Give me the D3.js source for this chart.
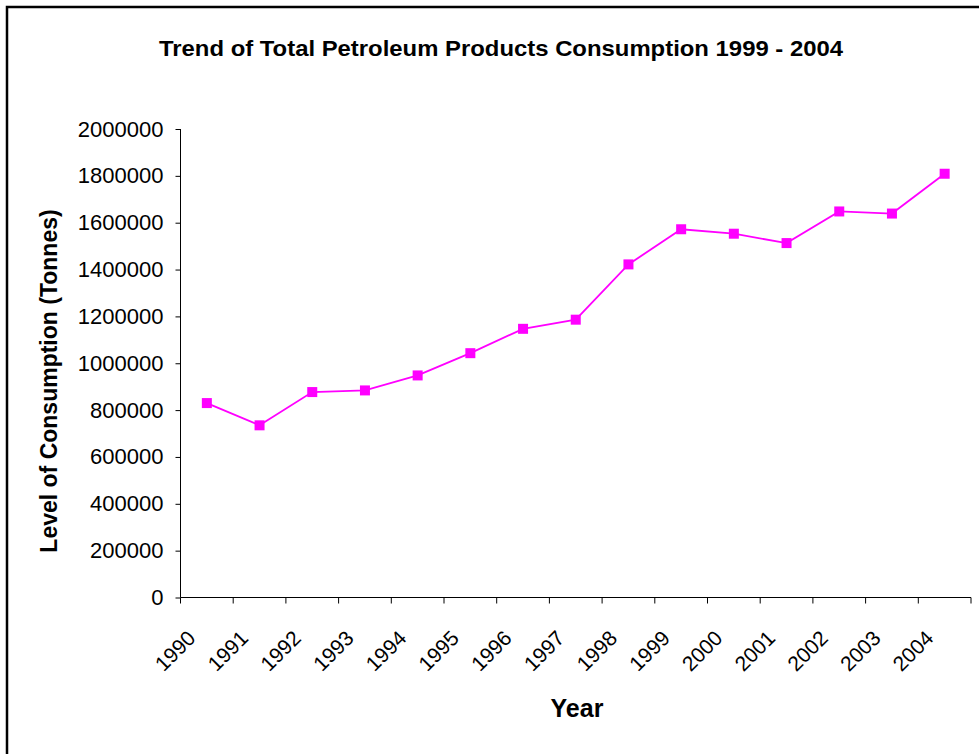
<!DOCTYPE html>
<html>
<head>
<meta charset="utf-8">
<script src="https://cdn.jsdelivr.net/npm/d3@7"></script>
<style>
  html, body { margin: 0; padding: 0; background: #fff; }
  svg { display: block; font-family: "Liberation Sans", Arial, sans-serif; }
</style>
</head>
<body>
<svg id="chart" width="979" height="754"></svg>
<script>
const years = ["1990","1991","1992","1993","1994","1995","1996","1997","1998","1999","2000","2001","2002","2003","2004"];
const consumption = [830000, 735000, 877000, 884000, 948000, 1043000, 1147000, 1186000, 1422000, 1572000, 1553000, 1513000, 1648000, 1639000, 1809000];
const yTicks = [0, 200000, 400000, 600000, 800000, 1000000, 1200000, 1400000, 1600000, 1800000, 2000000];
const titleText = "Trend of Total Petroleum Products Consumption 1999 - 2004";
const xTitle = "Year";
const yTitle = "Level of Consumption (Tonnes)";

const svg = d3.select("#chart");
const plotL = 180.5, plotR = 971, plotT = 129, plotB = 597.5;

// frame
svg.append("rect").attr("x", 7).attr("y", 7).attr("width", 1000).attr("height", 800)
  .attr("fill", "none").attr("stroke", "#000").attr("stroke-width", 2.5);

const x = d3.scaleBand().domain(years).range([plotL, plotR]).paddingInner(0).paddingOuter(0);
const y = d3.scaleLinear().domain([0, 2000000]).range([plotB, plotT]);

// y axis
const yAxis = svg.append("g").attr("transform", `translate(${plotL},0)`)
  .call(d3.axisLeft(y).tickValues(yTicks).tickSize(5).tickPadding(12).tickFormat(d3.format("d")));
yAxis.selectAll("path, line").attr("stroke", "#000").attr("stroke-width", 1);
yAxis.select(".domain").attr("d", `M0,${plotT}V${plotB}`);
yAxis.selectAll("text").attr("font-size", 22).attr("fill", "#000")
  .attr("font-family", "'Liberation Sans', Arial, sans-serif");

// x axis
const xAxis = svg.append("g").attr("transform", `translate(0,${plotB})`)
  .call(d3.axisBottom(x).tickSize(0).tickFormat(""));
xAxis.select(".domain").attr("d", `M${plotL},0H${plotR}`).attr("stroke", "#000");
const bounds = years.map(d => x(d)).concat([plotR]);
xAxis.selectAll(".bt").data(bounds).enter().append("line")
  .attr("x1", d => d).attr("x2", d => d).attr("y1", 0).attr("y2", 6)
  .attr("stroke", "#000").attr("stroke-width", 1);
xAxis.selectAll(".lbl").data(years).enter().append("text")
  .attr("transform", d => `translate(${x(d) + x.bandwidth()/2 - 10},42) rotate(-45)`)
  .attr("text-anchor", "end").attr("font-size", 21).attr("fill", "#000")
  .attr("font-family", "'Liberation Sans', Arial, sans-serif")
  .text(d => d);

// line
const cx = d => x(d) + x.bandwidth() / 2;
const line = d3.line().x((d, i) => cx(years[i])).y(d => y(d));
svg.append("path").datum(consumption).attr("d", line)
  .attr("fill", "none").attr("stroke", "#FF00FF").attr("stroke-width", 1.8);
svg.selectAll(".pt").data(consumption).enter().append("rect")
  .attr("x", (d, i) => cx(years[i]) - 5).attr("y", d => y(d) - 5)
  .attr("width", 10).attr("height", 10).attr("fill", "#FF00FF");

// titles
svg.append("text").attr("x", 501).attr("y", 56).attr("text-anchor", "middle")
  .attr("font-size", 21.5).attr("font-weight", "bold").attr("fill", "#000")
  .attr("textLength", 684).attr("lengthAdjust", "spacingAndGlyphs")
  .text(titleText);
svg.append("text").attr("x", 577).attr("y", 717).attr("text-anchor", "middle")
  .attr("font-size", 25).attr("font-weight", "bold").attr("fill", "#000")
  .text(xTitle);
svg.append("text").attr("transform", "translate(57,381) rotate(-90)").attr("text-anchor", "middle")
  .attr("font-size", 23).attr("font-weight", "bold").attr("fill", "#000")
  .text(yTitle);
</script>
</body>
</html>
